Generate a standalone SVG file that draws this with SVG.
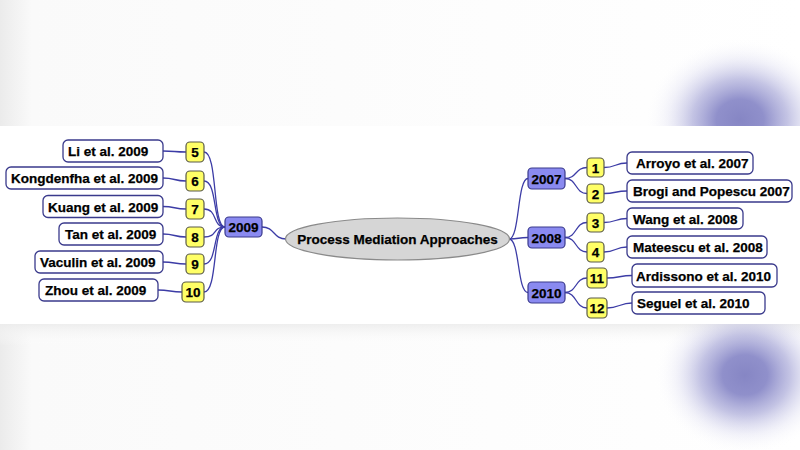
<svg xmlns="http://www.w3.org/2000/svg" width="800" height="450" viewBox="0 0 800 450">
<defs>
<linearGradient id="edgeL" x1="0" y1="0" x2="1" y2="0">
<stop offset="0" stop-color="#ebebeb"/>
<stop offset="0.04" stop-color="#fafafa"/>
<stop offset="1" stop-color="#ffffff"/>
</linearGradient>
<linearGradient id="shadeTop" x1="0" y1="0" x2="0" y2="1">
<stop offset="0" stop-color="#ececec" stop-opacity="0.9"/>
<stop offset="1" stop-color="#ffffff" stop-opacity="0"/>
</linearGradient>
<radialGradient id="blob">
<stop offset="0" stop-color="#8686c4"/>
<stop offset="0.25" stop-color="#8a8ac8" stop-opacity="0.95"/>
<stop offset="0.5" stop-color="#9c9cd2" stop-opacity="0.6"/>
<stop offset="0.75" stop-color="#c4c4e6" stop-opacity="0.22"/>
<stop offset="1" stop-color="#ffffff" stop-opacity="0"/>
</radialGradient>
<clipPath id="topClip"><rect x="0" y="0" width="800" height="126"/></clipPath>
<clipPath id="botClip"><rect x="0" y="324" width="800" height="126"/></clipPath>
</defs>
<style>
.lbl{fill:#ffffff;stroke:#3a3a8c;stroke-width:1.3}
.num{fill:#ffff66;stroke:#5a5a4a;stroke-width:1.2}
.yr{fill:#8a8af0;stroke:#3a3a8c;stroke-width:1.2}
.ctr{fill:#d6d6d6;stroke:#8a8a8a;stroke-width:1.2}
text{font-family:"Liberation Sans",Arial,sans-serif;font-weight:bold;font-size:13.5px;fill:#000000;stroke:#000000;stroke-width:0.25}
.c{text-anchor:middle}
#connectors path{fill:none;stroke:#3c3ca6;stroke-width:1.3}
</style>
<rect x="0" y="0" width="800" height="450" fill="#ffffff"/>
<rect x="0" y="0" width="800" height="126" fill="url(#edgeL)"/>
<rect x="0" y="324" width="800" height="126" fill="url(#edgeL)"/>
<rect x="0" y="324" width="800" height="22" fill="url(#shadeTop)"/>
<g clip-path="url(#topClip)"><ellipse cx="740" cy="120" rx="95" ry="82" fill="url(#blob)"/></g>
<g clip-path="url(#botClip)"><ellipse cx="745" cy="375" rx="90" ry="80" fill="url(#blob)"/></g>

<g id="connectors">
<path d="M163,151 C175,151 174,152 186,152"/>
<path d="M163,178 C175,178 174,181 186,181"/>
<path d="M163,206.5 C175,206.5 174,209 186,209"/>
<path d="M163,234 C175,234 174,237 186,237"/>
<path d="M163,262 C175,262 174,264 186,264"/>
<path d="M158,290 C170,290 170,292 182,292"/>
<path d="M204,152 C218,152 212,227 225,227"/>
<path d="M204,181 C218,181 212,227 225,227"/>
<path d="M204,209 C218,209 212,227 225,227"/>
<path d="M204,237 C218,237 212,227 225,227"/>
<path d="M204,264 C218,264 212,227 225,227"/>
<path d="M204,292 C218,292 212,227 225,227"/>
<path d="M262,227 C275,227 273,239 286,239"/>
<path d="M509,239 C520,239 517,178.5 528,178.5"/>
<path d="M509,239 C520,239 517,237.5 528,237.5"/>
<path d="M509,239 C520,239 517,292.5 528,292.5"/>
<path d="M565,178.5 C577,178.5 575,167.5 587,167.5"/>
<path d="M565,178.5 C577,178.5 575,193.5 587,193.5"/>
<path d="M565,237.5 C577,237.5 575,222.5 587,222.5"/>
<path d="M565,237.5 C577,237.5 575,252 587,252"/>
<path d="M565,292.5 C577,292.5 575,278 587,278"/>
<path d="M565,292.5 C577,292.5 575,308 587,308"/>
<path d="M604,167.5 C616,167.5 615,163 627,163"/>
<path d="M604,193.5 C616,193.5 615,191 627,191"/>
<path d="M604,222.5 C616,222.5 615,218.5 627,218.5"/>
<path d="M604,252 C616,252 615,247 627,247"/>
<path d="M607,278 C619,278 620,275.5 632,275.5"/>
<path d="M607,308 C619,308 620,303 632,303"/>
</g>

<g id="center"><ellipse class="ctr" cx="397.5" cy="239" rx="112" ry="21"/><text class="c" x="397.5" y="244">Process Mediation Approaches</text></g>

<g id="y2009"><rect class="yr" x="225" y="217" width="37" height="20" rx="4"/><text class="c" x="243.5" y="232">2009</text></g>
<g id="n5"><rect class="num" x="186" y="142" width="18" height="20" rx="4"/><text class="c" x="195" y="157">5</text></g>
<g id="n6"><rect class="num" x="186" y="171" width="18" height="20" rx="4"/><text class="c" x="195" y="186">6</text></g>
<g id="n7"><rect class="num" x="186" y="199" width="18" height="20" rx="4"/><text class="c" x="195" y="214">7</text></g>
<g id="n8"><rect class="num" x="186" y="227" width="18" height="20" rx="4"/><text class="c" x="195" y="242">8</text></g>
<g id="n9"><rect class="num" x="186" y="254" width="18" height="20" rx="4"/><text class="c" x="195" y="269">9</text></g>
<g id="n10"><rect class="num" x="182" y="282" width="22" height="20" rx="4"/><text class="c" x="193" y="297">10</text></g>
<g id="p5"><rect class="lbl" x="63" y="140" width="100" height="22" rx="5"/><text x="68" y="156">Li et al. 2009</text></g>
<g id="p6"><rect class="lbl" x="6" y="167" width="157" height="22" rx="5"/><text x="11" y="183">Kongdenfha et al. 2009</text></g>
<g id="p7"><rect class="lbl" x="43" y="195.5" width="120" height="22" rx="5"/><text x="48" y="211.5">Kuang et al. 2009</text></g>
<g id="p8"><rect class="lbl" x="59" y="223" width="104" height="22" rx="5"/><text x="65" y="239">Tan et al. 2009</text></g>
<g id="p9"><rect class="lbl" x="35" y="251" width="128" height="22" rx="5"/><text x="40" y="267">Vaculin et al. 2009</text></g>
<g id="p10"><rect class="lbl" x="39" y="279" width="119" height="22" rx="5"/><text x="45" y="295">Zhou et al. 2009</text></g>

<g id="y2007"><rect class="yr" x="528" y="168" width="37" height="21" rx="4"/><text class="c" x="546.5" y="183.5">2007</text></g>
<g id="y2008"><rect class="yr" x="528" y="227" width="37" height="21" rx="4"/><text class="c" x="546.5" y="242.5">2008</text></g>
<g id="y2010"><rect class="yr" x="528" y="282" width="37" height="21" rx="4"/><text class="c" x="546.5" y="297.5">2010</text></g>
<g id="n1"><rect class="num" x="587" y="158" width="17" height="19" rx="4"/><text class="c" x="595.5" y="172.5">1</text></g>
<g id="n2"><rect class="num" x="587" y="184" width="17" height="19" rx="4"/><text class="c" x="595.5" y="198.5">2</text></g>
<g id="n3"><rect class="num" x="587" y="213" width="17" height="19" rx="4"/><text class="c" x="595.5" y="227.5">3</text></g>
<g id="n4"><rect class="num" x="587" y="242" width="17" height="20" rx="4"/><text class="c" x="595.5" y="257">4</text></g>
<g id="n11"><rect class="num" x="587" y="268" width="20" height="20" rx="4"/><text class="c" x="597" y="283">11</text></g>
<g id="n12"><rect class="num" x="587" y="298" width="20" height="20" rx="4"/><text class="c" x="597" y="313">12</text></g>
<g id="p1"><rect class="lbl" x="627" y="152" width="126" height="22" rx="5"/><text x="636" y="168">Arroyo et al. 2007</text></g>
<g id="p2"><rect class="lbl" x="627" y="180" width="165" height="22" rx="5"/><text x="633" y="196">Brogi and Popescu 2007</text></g>
<g id="p3"><rect class="lbl" x="627" y="208" width="116" height="21" rx="5"/><text x="633" y="223.5">Wang et al. 2008</text></g>
<g id="p4"><rect class="lbl" x="627" y="236" width="140" height="22" rx="5"/><text x="633" y="252">Mateescu et al. 2008</text></g>
<g id="p11"><rect class="lbl" x="632" y="264" width="145" height="23" rx="5"/><text x="636" y="280.5">Ardissono et al. 2010</text></g>
<g id="p12"><rect class="lbl" x="632" y="292" width="133" height="22" rx="5"/><text x="637" y="308">Seguel et al. 2010</text></g>
</svg>
